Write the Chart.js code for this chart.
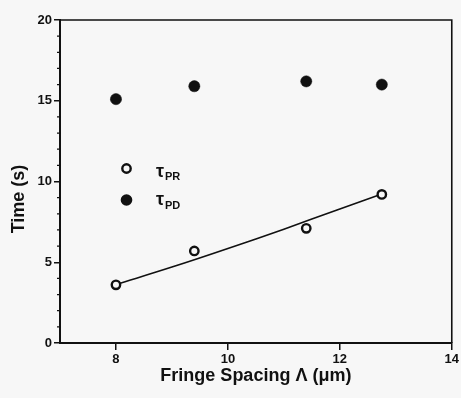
<!DOCTYPE html>
<html><head><meta charset="utf-8">
<script src="https://cdn.jsdelivr.net/npm/chart.js@4/dist/chart.umd.min.js"></script>
<style>html,body{margin:0;padding:0;background:#f7f7f7;overflow:hidden;}</style>
</head><body><canvas id="c" width="461" height="398"></canvas>
<script>
// ---- data ----
const fringeSpacing = [8.0, 9.4, 11.4, 12.75];
const tauPR = [3.6, 5.7, 7.1, 9.2];
const tauPD = [15.1, 15.9, 16.2, 16.0];
const fitSpacing = [8.0, 9.0, 10.0, 11.0, 12.0, 12.75];
const fitTau = [3.62, 4.7, 5.85, 7.05, 8.3, 9.22];
const xTicks = [8, 10, 12, 14];
const yTicks = [0, 5, 10, 15, 20];
const yMinorTicks = [1,2,3,4,6,7,8,9,11,12,13,14,16,17,18,19];
const xTitle = 'Fringe Spacing \u039B (\u03BCm)';
const yTitle = 'Time (s)';
const legendItems = [
  {main: '\u03C4', sub: 'PR', filled: false},
  {main: '\u03C4', sub: 'PD', filled: true}
];

const BG = '#f7f7f7';
const INK = '#111111';
const FONT = "'Liberation Sans', Arial, sans-serif";

const decor = {
  id: 'decor',
  beforeDraw(chart) {
    const ctx = chart.ctx;
    ctx.save();
    ctx.fillStyle = BG;
    ctx.fillRect(0, 0, chart.width, chart.height);
    ctx.restore();
  },
  afterDraw(chart) {
    const ctx = chart.ctx;
    const a = chart.chartArea;
    const ys = chart.scales.y;
    ctx.save();
    ctx.strokeStyle = INK;
    ctx.lineWidth = 1.6;
    ctx.beginPath();
    ctx.moveTo(a.left, a.top); ctx.lineTo(a.right, a.top); ctx.lineTo(a.right, a.bottom);
    ctx.stroke();
    ctx.lineWidth = 1.3;
    ctx.beginPath();
    yMinorTicks.forEach(v => {
      const p = ys.getPixelForValue(v);
      ctx.moveTo(a.left - 3, p); ctx.lineTo(a.left + 1, p);
    });
    ctx.stroke();
    ctx.fillStyle = INK;
    ctx.font = 'bold 18px ' + FONT;
    ctx.textAlign = 'center';
    ctx.textBaseline = 'middle';
    ctx.translate(19, 199);
    ctx.rotate(-Math.PI / 2);
    ctx.fillText(yTitle, 0, 0);
    ctx.restore();
    ctx.save();
    const rows = [{cy: 168.5, base: 176.5, subBase: 179.5}, {cy: 200, base: 205, subBase: 209}];
    legendItems.forEach((it, i) => {
      const r = rows[i];
      ctx.beginPath();
      if (it.filled) {
        ctx.arc(126.5, r.cy, 5.8, 0, Math.PI * 2);
        ctx.fillStyle = INK; ctx.fill();
      } else {
        ctx.arc(126.5, r.cy, 4.2, 0, Math.PI * 2);
        ctx.fillStyle = BG; ctx.fill();
        ctx.lineWidth = 2.4; ctx.strokeStyle = INK; ctx.stroke();
      }
      ctx.fillStyle = INK;
      ctx.textAlign = 'left';
      ctx.textBaseline = 'alphabetic';
      ctx.font = 'bold 18px ' + FONT;
      ctx.fillText(it.main, 156, r.base);
      ctx.font = 'bold 11px ' + FONT;
      ctx.fillText(it.sub, 165, r.subBase);
    });
    ctx.restore();
  }
};

new Chart(document.getElementById('c'), {
  type: 'scatter',
  data: {
    datasets: [
      {
        type: 'line',
        label: 'fit',
        data: fitSpacing.map((x, i) => ({x: x, y: fitTau[i]})),
        borderColor: INK,
        borderWidth: 1.6,
        pointRadius: 0,
        fill: false,
        tension: 0.4,
        order: 3
      },
      {
        label: '\u03C4PR',
        data: fringeSpacing.map((x, i) => ({x: x, y: tauPR[i]})),
        pointRadius: 4.2,
        pointBorderWidth: 2.4,
        pointBorderColor: INK,
        pointBackgroundColor: BG,
        order: 1
      },
      {
        label: '\u03C4PD',
        data: fringeSpacing.map((x, i) => ({x: x, y: tauPD[i]})),
        pointRadius: 5.6,
        pointBorderWidth: 0.5,
        pointBorderColor: INK,
        pointBackgroundColor: INK,
        order: 1
      }
    ]
  },
  options: {
    responsive: false,
    animation: false,
    devicePixelRatio: 1,
    layout: {padding: {top: 20, right: 8, left: 0, bottom: 0}},
    plugins: {legend: {display: false}, tooltip: {enabled: false}},
    scales: {
      x: {
        type: 'linear',
        min: 7, max: 14,
        afterBuildTicks: s => { s.ticks = xTicks.map(v => ({value: v})); },
        afterFit: s => { s.height = 55; },
        ticks: {color: INK, font: {family: FONT, size: 13, weight: 'bold'}, padding: 2, maxRotation: 0},
        grid: {drawOnChartArea: false, drawTicks: true, tickLength: 7, color: INK, lineWidth: 1.5},
        border: {display: true, color: INK, width: 2},
        title: {display: true, text: xTitle, color: INK, font: {family: FONT, size: 18, weight: 'bold', lineHeight: 1.2}, padding: {top: 0, bottom: 11}}
      },
      y: {
        type: 'linear',
        min: 0, max: 20,
        afterBuildTicks: s => { s.ticks = yTicks.map(v => ({value: v})); },
        afterFit: s => { s.width = 60; },
        ticks: {color: INK, font: {family: FONT, size: 13, weight: 'bold'}, padding: 2},
        grid: {drawOnChartArea: false, drawTicks: true, tickLength: 6, color: INK, lineWidth: 1.5},
        border: {display: true, color: INK, width: 2}
      }
    }
  },
  plugins: [decor]
});
</script>
</body></html>
